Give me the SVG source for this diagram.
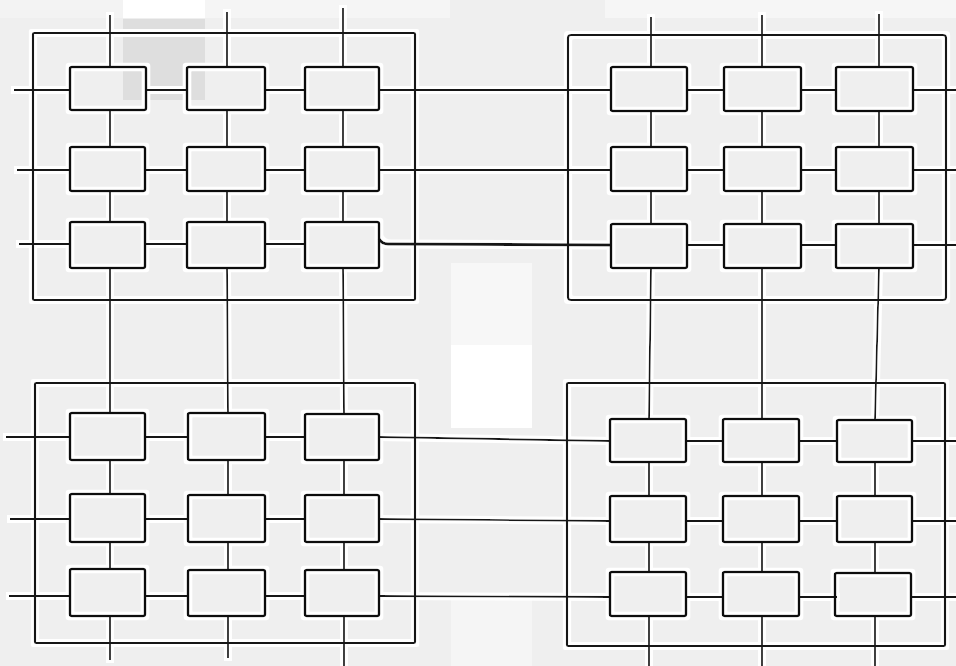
<svg xmlns="http://www.w3.org/2000/svg" width="956" height="666" viewBox="0 0 956 666">
<defs>
<filter id="halo" filterUnits="userSpaceOnUse" x="0" y="0" width="956" height="666">
<feMorphology in="SourceAlpha" operator="dilate" radius="2.5" result="d"/>
<feFlood flood-color="#ffffff"/>
<feComposite in2="d" operator="in" result="w"/>
<feMerge><feMergeNode in="w"/><feMergeNode in="SourceGraphic"/></feMerge>
</filter>
</defs>
<style>
.bg{fill:#efefef}
.box{fill:none;stroke:#101010;stroke-width:2.6}
.frame{fill:none;stroke:#121212;stroke-width:2.2}
.c{fill:none;stroke:#161616;stroke-width:1.9}
.thick{stroke-width:3}
</style>
<rect class="bg" x="0" y="0" width="956" height="666"/>
<g id="scan-patches">
<rect x="0" y="0" width="123" height="18" fill="#f3f3f3"/>
<rect x="123" y="0" width="82" height="18" fill="#ffffff"/>
<rect x="205" y="0" width="245" height="18" fill="#f5f5f5"/>
<rect x="605" y="0" width="351" height="18" fill="#f6f6f6"/>
<rect x="123" y="19" width="82" height="81" fill="#dedede"/>
<rect x="451" y="263" width="81" height="82" fill="#f7f7f7"/>
<rect x="451" y="345" width="81" height="83" fill="#ffffff"/>
<rect x="451" y="600" width="81" height="66" fill="#f5f5f5"/>
</g>
<g filter="url(#halo)">
<g id="connectors">
<path class="c" d="M110 15V67M110 110V147M110 191V222M110 268V413M110 460V494M110 542V569M110 616V660"/>
<path class="c" d="M227 12V67M227 110V147M227 191V222M227 268L228 413M228 460V494M228 542V569M228 616V658"/>
<path class="c" d="M343 8V67M343 110V147M343 191V222M343 268L344 413M344 460V494M344 542V569M344 616V666"/>
<path class="c" d="M651 17V67M651 111V147M651 191V224M651 268L649 419M649 462V496M649 542V572M649 616V666"/>
<path class="c" d="M762 15V67M762 111V147M762 191V224M762 268V419M762 462V496M762 542V572M762 616V666"/>
<path class="c" d="M879 14V67M879 111V147M879 191V224M879 268L875 419M875 462V496M875 542V572M875 616V666"/>
<path class="c" d="M14 90H70M146 90H187M265 90H305M379 90H611M687 90H724M801 90H836M913 90H956"/>
<path class="c" d="M17 170H70M146 170H187M265 170H305M379 170H611M687 170H724M801 170H836M913 170H956"/>
<path class="c" d="M19 244H70M146 244H187M265 244H305M687 245H724M801 245H836M913 245H956"/>
<path class="c thick" d="M379 239Q382 244 388 244L611 245"/>
<path class="c" d="M6 437H70M145 437H188M265 437H305M379 437L610 441M686 441H723M799 441H837M912 441H956"/>
<path class="c" d="M10 519H70M145 519H188M265 519H305M379 519L610 521M686 521H723M799 521H837M912 521H956"/>
<path class="c" d="M9 596H70M145 596H188M265 596H305M379 596L610 597M686 597H723M799 597H837M912 597H956"/>
</g>
<g id="cluster-tl"><rect class="frame" x="33" y="33" width="382" height="267" rx="1"/></g>
<g id="cluster-tr"><rect class="frame" x="568" y="35" width="378" height="265" rx="3"/></g>
<g id="cluster-bl"><rect class="frame" x="35" y="383" width="380" height="260" rx="1"/></g>
<g id="cluster-br"><rect class="frame" x="567" y="383" width="378" height="263" rx="1"/></g>
<g id="tl-11"><rect class="box" x="70" y="67" width="76" height="43" rx="2"/></g>
<g id="tl-12"><rect class="box" x="187" y="67" width="78" height="43" rx="2"/></g>
<g id="tl-13"><rect class="box" x="305" y="67" width="74" height="43" rx="2"/></g>
<g id="tl-21"><rect class="box" x="70" y="147" width="75" height="44" rx="2"/></g>
<g id="tl-22"><rect class="box" x="187" y="147" width="78" height="44" rx="2"/></g>
<g id="tl-23"><rect class="box" x="305" y="147" width="74" height="44" rx="2"/></g>
<g id="tl-31"><rect class="box" x="70" y="222" width="75" height="46" rx="2"/></g>
<g id="tl-32"><rect class="box" x="187" y="222" width="78" height="46" rx="2"/></g>
<g id="tl-33"><rect class="box" x="305" y="222" width="74" height="46" rx="2"/></g>
<g id="tr-11"><rect class="box" x="611" y="67" width="76" height="44" rx="2"/></g>
<g id="tr-12"><rect class="box" x="724" y="67" width="77" height="44" rx="2"/></g>
<g id="tr-13"><rect class="box" x="836" y="67" width="77" height="44" rx="2"/></g>
<g id="tr-21"><rect class="box" x="611" y="147" width="76" height="44" rx="2"/></g>
<g id="tr-22"><rect class="box" x="724" y="147" width="77" height="44" rx="2"/></g>
<g id="tr-23"><rect class="box" x="836" y="147" width="77" height="44" rx="2"/></g>
<g id="tr-31"><rect class="box" x="611" y="224" width="76" height="44" rx="2"/></g>
<g id="tr-32"><rect class="box" x="724" y="224" width="77" height="44" rx="2"/></g>
<g id="tr-33"><rect class="box" x="836" y="224" width="77" height="44" rx="2"/></g>
<g id="bl-11"><rect class="box" x="70" y="413" width="75" height="47" rx="2"/></g>
<g id="bl-12"><rect class="box" x="188" y="413" width="77" height="47" rx="2"/></g>
<g id="bl-13"><rect class="box" x="305" y="414" width="74" height="46" rx="2"/></g>
<g id="bl-21"><rect class="box" x="70" y="494" width="75" height="48" rx="2"/></g>
<g id="bl-22"><rect class="box" x="188" y="495" width="77" height="47" rx="2"/></g>
<g id="bl-23"><rect class="box" x="305" y="495" width="74" height="47" rx="2"/></g>
<g id="bl-31"><rect class="box" x="70" y="569" width="75" height="47" rx="2"/></g>
<g id="bl-32"><rect class="box" x="188" y="570" width="77" height="46" rx="2"/></g>
<g id="bl-33"><rect class="box" x="305" y="570" width="74" height="46" rx="2"/></g>
<g id="br-11"><rect class="box" x="610" y="419" width="76" height="43" rx="2"/></g>
<g id="br-12"><rect class="box" x="723" y="419" width="76" height="43" rx="2"/></g>
<g id="br-13"><rect class="box" x="837" y="420" width="75" height="42" rx="2"/></g>
<g id="br-21"><rect class="box" x="610" y="496" width="76" height="46" rx="2"/></g>
<g id="br-22"><rect class="box" x="723" y="496" width="76" height="46" rx="2"/></g>
<g id="br-23"><rect class="box" x="837" y="496" width="75" height="46" rx="2"/></g>
<g id="br-31"><rect class="box" x="610" y="572" width="76" height="44" rx="2"/></g>
<g id="br-32"><rect class="box" x="723" y="572" width="76" height="44" rx="2"/></g>
<g id="br-33"><rect class="box" x="835" y="573" width="76" height="43" rx="2"/></g>
</g>
</svg>
